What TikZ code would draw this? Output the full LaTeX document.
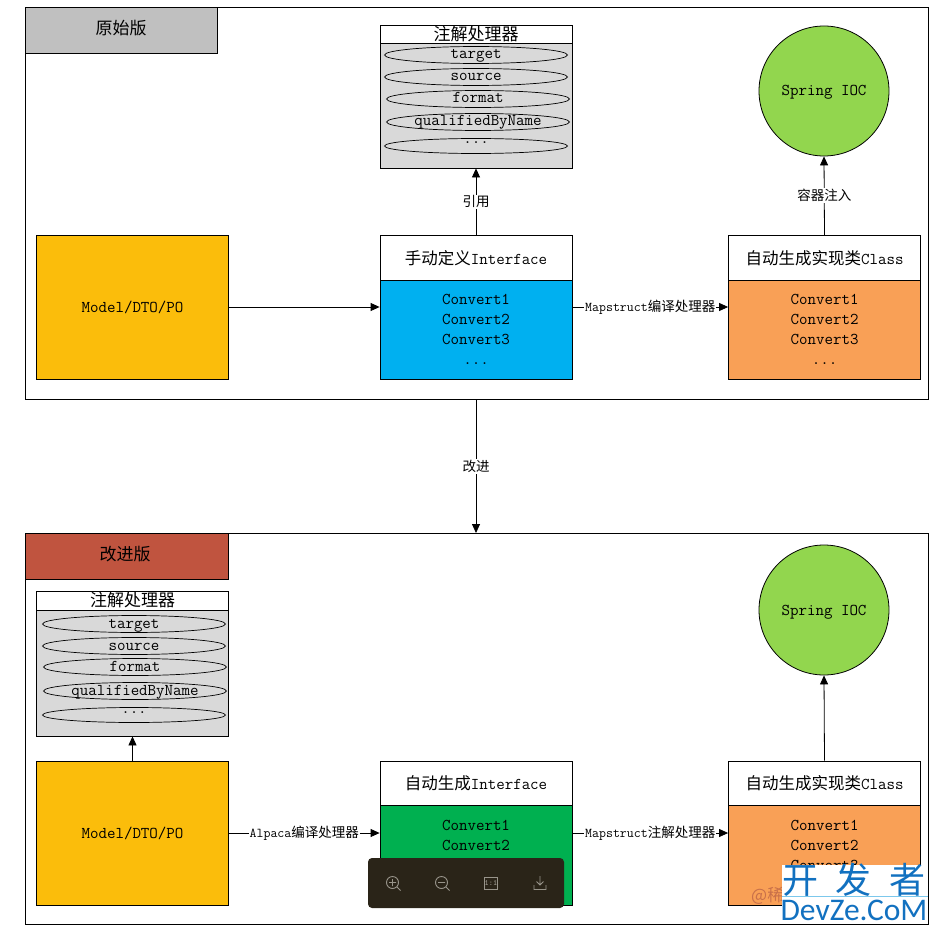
\documentclass[tikz,border=0pt]{standalone}
\usepackage{fontspec}
\newfontfamily\cjk{Noto Sans CJK SC}
\newfontfamily\logofont{Carlito}
\usetikzlibrary{shapes}
\usetikzlibrary{positioning}
\usetikzlibrary{arrows.meta}
\definecolor{tabgray}{HTML}{C0C0C0}
\definecolor{tabred}{HTML}{C0543F}
\definecolor{bodygray}{HTML}{D9D9D9}
\definecolor{modelyellow}{HTML}{FBBD0B}
\definecolor{ifblue}{HTML}{00B0F0}
\definecolor{ifgreen}{HTML}{00B050}
\definecolor{classorange}{HTML}{F9A056}
\definecolor{iocgreen}{HTML}{92D64E}
\definecolor{toolbg}{HTML}{2A2418}
\definecolor{toolfg}{HTML}{98948A}
\definecolor{logoblue}{HTML}{1271C0}
\definecolor{logoline}{HTML}{7CC8EC}
\definecolor{stampred}{HTML}{C8704A}
\tikzset{
    frame/.style = {rectangle, draw=black, line width=0.8pt, anchor=north west, inner sep=0pt},
    titletab/.style = {rectangle, draw=black, line width=0.8pt, font=\cjk\fontsize{17}{17}\selectfont},
    headbox/.style = {rectangle, draw=black, line width=0.8pt, fill=white, minimum width=192pt, inner sep=0pt, font=\ttfamily\fontsize{16.5}{18}\selectfont},
    bodybox/.style = {rectangle, draw=black, line width=0.8pt, minimum width=192pt, inner sep=0pt, align=center, font=\ttfamily\fontsize{16.5}{20}\selectfont},
    keyoval/.style = {ellipse, draw=black, line width=0.7pt, minimum width=183pt, minimum height=15pt, inner sep=0pt, text height=10pt, text depth=2pt, font=\ttfamily\fontsize{16.5}{16}\selectfont},
    ioc/.style = {circle, draw=black, line width=0.8pt, fill=iocgreen, minimum size=130pt, inner sep=0pt, text height=12pt, text depth=2pt, font=\ttfamily\fontsize{16.5}{16}\selectfont},
    edgen/.style = {-{Triangle[length=9pt,width=8pt]}, line width=0.8pt},
    edgel/.style = {fill=white, inner sep=1pt, font=\ttfamily\fontsize{13.5}{13.5}\selectfont},
    toolicon/.style = {toolfg, line width=0.9pt}
}

\begin{document}
\begin{tikzpicture}[x=1pt,y=-1pt]
\useasboundingbox (0,0) rectangle (937,931);
%
% original version
\node[frame, minimum width=903pt, minimum height=392pt] at (25,7) (oldframe) {};
\node[titletab, fill=tabgray, minimum width=192pt, minimum height=46pt] at (121,30) (oldtab) {};
\node[font=\cjk\fontsize{17}{17}\selectfont] at (121,28) (oldtitle) {原始版};
%
\node[headbox, minimum height=18pt, font=\cjk\fontsize{17}{17}\selectfont] at (476,34) (oldannhead) {注解处理器};
\node[bodybox, fill=bodygray, minimum height=125pt] at (476,105.5) (oldann) {};
\node[keyoval] at (476,55) (oldtarget) {target};
\node[keyoval] at (476,77) (oldsource) {source};
\node[keyoval] at (478,99) (oldformat) {format};
\node[keyoval] at (478,122) (oldqual) {qualifiedByName};
\node[keyoval, text height=2pt, text depth=6pt] at (476,146) (olddots) {...};
%
\node[ioc] at (824,91) (oldioc) {Spring IOC};
%
\node[bodybox, fill=modelyellow, minimum height=144pt] at (132.5,307) (oldmodel) {Model/DTO/PO};
\node[headbox, minimum height=44.5pt] at (476,257.75) (oldifhead) {{\cjk 手动定义}Interface};
\node[bodybox, fill=ifblue, minimum height=99pt] at (476,329.5) (oldif) {Convert1\\Convert2\\Convert3\\...};
\node[headbox, minimum height=44.5pt] at (824.5,257.75) (oldclshead) {{\cjk 自动生成实现类}Class};
\node[bodybox, fill=classorange, minimum height=99pt] at (824.5,329.5) (oldcls) {Convert1\\Convert2\\Convert3\\...};
%
\draw[edgen] (oldmodel.east) -- (oldmodel.east -| oldif.west);
\draw[edgen] (oldif.east |- oldmodel.east) -- node[edgel] {Mapstruct{\cjk 编译处理器}} (oldcls.west |- oldmodel.east);
\draw[edgen] (oldifhead.north) -- node[edgel, font=\cjk\fontsize{13.5}{13.5}\selectfont] {引用} (oldann.south);
\draw[edgen] (oldclshead.north) -- node[edgel, pos=0.5, font=\cjk\fontsize{13.5}{13.5}\selectfont] {容器注入} (oldioc.south);
%
% improved version
\node[frame, minimum width=903pt, minimum height=391pt] at (25,533) (newframe) {};
\node[titletab, fill=tabred, minimum width=203pt, minimum height=46pt] at (126.5,556) (newtab) {};
\node[font=\cjk\fontsize{17}{17}\selectfont] at (125,554) (newtitle) {改进版};
%
\draw[edgen] (oldframe.south -| oldann.south) -- node[edgel, font=\cjk\fontsize{13.5}{13.5}\selectfont] {改进} (newframe.north -| oldann.south);
%
\node[headbox, minimum height=19pt, font=\cjk\fontsize{17}{17}\selectfont] at (132.5,600.5) (newannhead) {注解处理器};
\node[bodybox, fill=bodygray, minimum height=126pt] at (132.5,673) (newann) {};
\node[keyoval] at (134,624) (newtarget) {target};
\node[keyoval] at (134,646) (newsource) {source};
\node[keyoval] at (135,667) (newformat) {format};
\node[keyoval] at (135,691) (newqual) {qualifiedByName};
\node[keyoval, text height=2pt, text depth=6pt] at (134,715) (newdots) {...};
%
\node[ioc] at (824,610) (newioc) {Spring IOC};
%
\node[bodybox, fill=modelyellow, minimum height=144pt] at (132.5,833) (newmodel) {Model/DTO/PO};
\node[headbox, minimum height=44pt] at (476,783) (newifhead) {{\cjk 自动生成}Interface};
\node[bodybox, fill=ifgreen, minimum height=100pt] at (476,855) (newif) {Convert1\\Convert2\\\mbox{}\\\mbox{}};
\node[headbox, minimum height=44pt] at (824.5,783) (newclshead) {{\cjk 自动生成实现类}Class};
\node[bodybox, fill=classorange, minimum height=100pt] at (824.5,855) (newcls) {Convert1\\Convert2\\Convert3\\\mbox{}};
%
\draw[edgen] (newmodel.north) -- (newann.south);
\draw[edgen] (newmodel.east) -- node[edgel] {Alpaca{\cjk 编译处理器}} (newmodel.east -| newif.west);
\draw[edgen] (newif.east |- newmodel.east) -- node[edgel] {Mapstruct{\cjk 注解处理器}} (newcls.west |- newmodel.east);
\draw[edgen] (newclshead.north) -- (newioc.south);
%
% viewer toolbar and site logo lying over the picture
\node[rectangle, rounded corners=4pt, fill=toolbg, minimum width=196pt, minimum height=50pt] at (466,883) (toolbar) {};
\draw[toolicon] (392.5,882.5) circle (6pt) (389,882.5) -- (396,882.5) (392.5,879) -- (392.5,886) (397,887) -- (400.5,890.5);
\draw[toolicon] (441.5,882.5) circle (6pt) (438,882.5) -- (445,882.5) (446,887) -- (449.5,890.5);
\node[draw=toolfg, line width=0.9pt, minimum width=13pt, minimum height=12pt, inner sep=0pt, text=toolfg, font=\ttfamily\bfseries\fontsize{8}{8}\selectfont] at (491,883) (toolone) {1:1};
\draw[toolicon] (540,876) -- (540,885) (536.5,881.5) -- (540,885) -- (543.5,881.5) (534,885) -- (534,889.5) -- (546,889.5) -- (546,885);
%
\node[text=stampred, inner sep=0pt, font=\cjk\fontsize{17}{17}\selectfont, anchor=west] at (751,896) (stamp) {@稀};
\node[rectangle, fill=white, minimum width=146pt, minimum height=56pt] at (855,893) (logo) {};
\draw[logoline, line width=0.8pt] (logo.west |- 0,896) -- (logo.east |- 0,896);
\node[text=logoblue, inner sep=0pt, text height=27pt, text depth=0pt, font=\cjk\fontsize{36}{36}\selectfont] at (800,880) (logoka) {开};
\node[text=logoblue, inner sep=0pt, text height=27pt, text depth=0pt, font=\cjk\fontsize{36}{36}\selectfont] at (853,880) (logofa) {发};
\node[text=logoblue, inner sep=0pt, text height=27pt, text depth=0pt, font=\cjk\fontsize{36}{36}\selectfont] at (907,880) (logozhe) {者};
\node[text=logoblue, inner sep=0pt, text height=21pt, text depth=0pt, font=\logofont\fontsize{31.5}{31.5}\selectfont] at (854,909.5) (logoen) {DevZe.CoM};
\end{tikzpicture}
\end{document}
